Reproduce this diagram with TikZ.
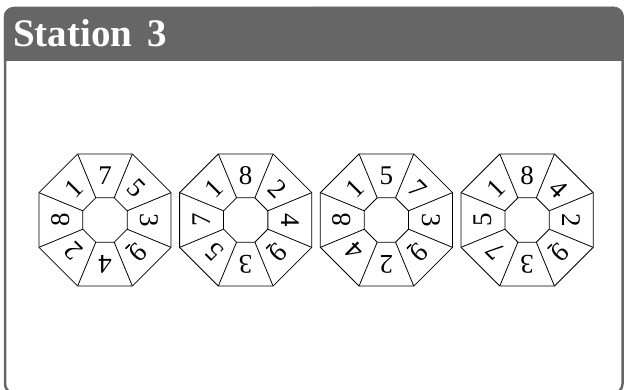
\documentclass[tikz,border=0pt]{standalone}
\usepackage{fontspec}
\setmainfont{Liberation Serif}
\definecolor{hdr}{HTML}{666666}
\newcommand{\nineu}{9\llap{\rule[-0.12em]{0.22em}{0.06em}\kern0.04em}}
\begin{document}
\begin{tikzpicture}[x=1pt,y=1pt,
  octline/.style={draw=black, line width=0.8pt},
  digit/.style={font=\fontsize{27}{27}\selectfont, inner sep=0pt},
  title/.style={font=\fontsize{39}{39}\selectfont\bfseries, text=white, inner sep=0pt, anchor=base west}]
\clip (0,0) rectangle (624,389);
\useasboundingbox (0,0) rectangle (624,389);
% frame body
\draw[hdr, line width=2.5pt, fill=white, rounded corners=9pt] (5,-4) rectangle (622.5,381);
% header
\fill[hdr] (3.75,328) -- (3.75,372) arc[start angle=180,end angle=90,radius=9.75]
  -- (614,382.25) arc[start angle=90,end angle=0,radius=9.75] -- (623.75,328) -- cycle;
\node[title] (ttl) at (13,342) {Station\hspace{0.4em}3};
% octagons
\foreach \cx/\labs [count=\i] in {105/{7,5,3,\nineu,4,2,8,1}, 245.7/{8,2,4,\nineu,3,5,7,1}, 386.4/{5,7,3,\nineu,2,4,8,1}, 527.1/{8,4,2,\nineu,3,7,5,1}}{
  \begin{scope}[shift={(\cx,169)}]
    \draw[octline] (22.5:71.5) -- (67.5:71.5) -- (112.5:71.5) -- (157.5:71.5) -- (202.5:71.5) -- (247.5:71.5) -- (292.5:71.5) -- (337.5:71.5) -- cycle;
    \draw[octline] (22.5:24) -- (67.5:24) -- (112.5:24) -- (157.5:24) -- (202.5:24) -- (247.5:24) -- (292.5:24) -- (337.5:24) -- cycle;
    \foreach \v in {22.5,67.5,...,337.5}{
      \draw[octline] (\v:24) -- (\v:71.5);
    }
    \foreach \l [count=\k] in \labs {
      \pgfmathsetmacro{\ang}{90-45*(\k-1)}
      \pgfmathsetmacro{\rot}{\ang-90}
      \node[digit, rotate=\rot] (d\i-\k) at (\ang:44.5) {\l};
    }
  \end{scope}
}
\end{tikzpicture}
\end{document}
